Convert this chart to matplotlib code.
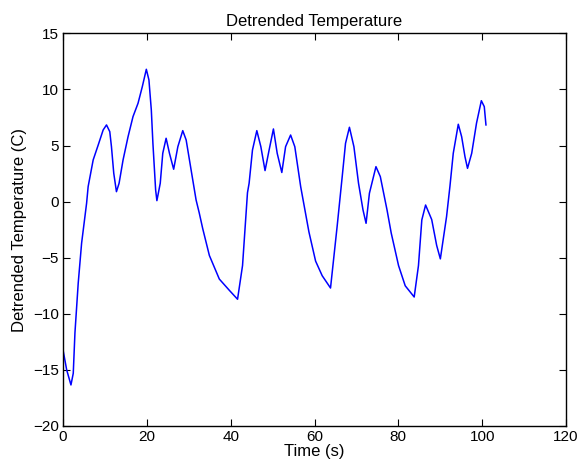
import matplotlib.pyplot as plt

plt.rcParams['font.family'] = ['Liberation Sans', 'DejaVu Sans']

# time (s) and detrended temperature (C)
time_s = [0, 0.88, 1.9, 2.45, 2.85, 3.63, 4.44, 5.63, 6.0, 7.2, 8.4, 9.58,
          10.38, 11.16, 11.56, 12.11, 12.75, 13.38, 14.33, 15.52, 16.7,
          17.9, 18.92, 19.88, 20.5, 21.07, 21.45, 22.1, 22.4, 23.2, 23.8,
          24.6, 25.4, 26.4, 27.4, 28.57, 29.38, 30.56, 31.75, 32.5, 33.33,
          34.92, 37.29, 39.67, 41.64, 42.83, 44.01, 44.4, 45.2, 46.24,
          47.2, 48.2, 49.17, 50.2, 51.1, 52.2, 53.1, 54.3, 55.3, 56.7,
          58.67, 60.26, 61.83, 63.82, 65.4, 66.6, 67.4, 68.33, 69.4, 70.5,
          71.57, 72.3, 73.1, 74.66, 75.7, 77.3, 78.3, 80.05, 81.64, 83.78,
          84.8, 85.6, 86.5, 87.96, 89.14, 90.02, 91.5, 92.3, 93.1, 94.3,
          95.1, 95.9, 96.5, 97.5, 98.65, 99.8, 100.5, 100.9]
temp_c = [-13.2, -15.0, -16.34, -15.3, -11.7, -7.27, -3.7, -0.14, 1.34, 3.72,
          5.05, 6.39, 6.84, 6.24, 4.9, 2.53, 0.89, 1.64, 3.72, 5.79, 7.58,
          8.77, 10.25, 11.8, 10.85, 8.17, 5.2, 1.04, 0.09, 1.64, 4.31,
          5.65, 4.31, 2.89, 4.9, 6.33, 5.5, 2.83, 0.15, -1.0, -2.4,
          -4.8, -6.9, -7.9, -8.7, -5.7, 0.8, 1.64, 4.6, 6.33,
          4.9, 2.77, 4.6, 6.48, 4.31, 2.6, 4.9, 5.94, 4.9, 1.34,
          -2.7, -5.3, -6.6, -7.7, -2.2, 2.2, 5.2, 6.63, 4.9, 1.64,
          -0.74, -1.93, 0.75, 3.12, 2.23, -0.74, -2.8, -5.7, -7.5, -8.5,
          -5.7, -1.63, -0.3, -1.6, -3.9, -5.1, -1.34, 1.34, 4.31, 6.9,
          5.79, 4.0, 2.97, 4.31, 7.0, 9.0, 8.47, 6.84]

fig = plt.figure(figsize=(5.86, 4.69), dpi=100)
ax = fig.add_axes([0.1075, 0.0917, 0.8584, 0.8371])
ax.plot(time_s, temp_c, color='blue', linewidth=1.1)

ax.set_xlim(0, 120)
ax.set_ylim(-20, 15)
ax.set_xticks(range(0, 121, 20))
ax.set_yticks(range(-20, 16, 5))
ax.tick_params(direction='in', top=True, right=True, length=5, labelsize=11, pad=3)
for s in ax.spines.values():
    s.set_linewidth(1.0)

ax.set_title('Detrended Temperature', fontsize=12, pad=5)
ax.set_xlabel('Time (s)', fontsize=12, labelpad=0)
ax.set_ylabel('Detrended Temperature (C)', fontsize=12, labelpad=4)

fig.savefig('out.png', dpi=100)
